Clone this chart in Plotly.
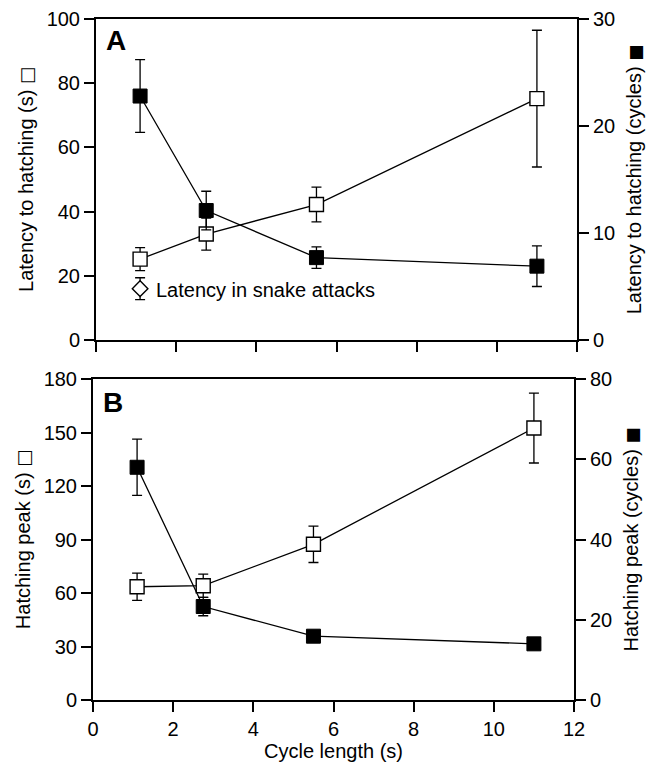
import plotly.graph_objects as go

# ---------------- data ----------------
cycle_length = [1.1, 2.75, 5.5, 11.0]

# Panel A
latency_s = [25.2, 33.0, 42.2, 75.2]
latency_s_err = [3.6, 5.0, 5.4, 21.3]
latency_cycles = [22.8, 12.1, 7.7, 6.9]
latency_cycles_err = [3.4, 1.8, 1.0, 1.9]
snake_x = [1.1]
snake_latency = [16.0]
snake_latency_err = [3.4]

# Panel B
peak_s = [63.5, 64.1, 87.3, 152.5]
peak_s_err = [7.6, 6.5, 10.2, 19.6]
peak_cycles = [58.0, 23.3, 15.9, 14.0]
peak_cycles_err = [7.0, 2.3, 1.0, 0.8]

x_ticks = [0, 2, 4, 6, 8, 10, 12]

FONT = "Liberation Sans, Arial, Helvetica, sans-serif"
PAGE_W, PAGE_H = 659, 767
OFF = 8  # default body margin of the html page
W, H = PAGE_W - OFF, PAGE_H - OFF

def px_x(p):
    return (p - OFF) / W

def px_y(p):
    return 1 - (p - OFF) / H

fig = go.Figure()

line_style = dict(color="black", width=1.3)
err_style = dict(type="data", visible=True, color="black", thickness=1.3, width=5)

# ---- Panel A ----
fig.add_trace(go.Scatter(
    x=cycle_length, y=latency_s, xaxis="x", yaxis="y",
    mode="lines+markers", line=line_style,
    marker=dict(symbol="square", size=14, color="white", line=dict(color="black", width=1.4)),
    error_y=dict(array=latency_s_err, **err_style), showlegend=False))
fig.add_trace(go.Scatter(
    x=snake_x, y=snake_latency, xaxis="x", yaxis="y",
    mode="markers",
    marker=dict(symbol="diamond", size=12, color="white", line=dict(color="black", width=1.4)),
    error_y=dict(array=snake_latency_err, **err_style), showlegend=False))
fig.add_trace(go.Scatter(
    x=cycle_length, y=latency_cycles, xaxis="x", yaxis="y2",
    mode="lines+markers", line=line_style,
    marker=dict(symbol="square", size=14, color="black", line=dict(color="black", width=1)),
    error_y=dict(array=latency_cycles_err, **err_style), showlegend=False))

# ---- Panel B ----
fig.add_trace(go.Scatter(
    x=cycle_length, y=peak_s, xaxis="x2", yaxis="y3",
    mode="lines+markers", line=line_style,
    marker=dict(symbol="square", size=14, color="white", line=dict(color="black", width=1.4)),
    error_y=dict(array=peak_s_err, **err_style), showlegend=False))
fig.add_trace(go.Scatter(
    x=cycle_length, y=peak_cycles, xaxis="x2", yaxis="y4",
    mode="lines+markers", line=line_style,
    marker=dict(symbol="square", size=14, color="black", line=dict(color="black", width=1)),
    error_y=dict(array=peak_cycles_err, **err_style), showlegend=False))

tickfont = dict(family=FONT, size=20, color="black")
titlefont = dict(family=FONT, size=20, color="black")

axis_common = dict(showline=True, linecolor="black", linewidth=2, ticks="outside",
                   ticklen=10, tickwidth=2, tickcolor="black", showgrid=False,
                   zeroline=False, tickfont=tickfont)

SQ_OPEN = '<span style="font-family:DejaVu Sans;font-size:18px;color:black">\u25A1</span>'
SQ_FILL = '<span style="font-family:DejaVu Sans;font-size:17px;color:black">\u25A0</span>'

dom_x_top = [px_x(96), px_x(577)]
dom_x_bot = [px_x(93), px_x(574)]
dom_y_top = [px_y(340), px_y(19)]
dom_y_bot = [px_y(700), px_y(379)]

fig.update_layout(
    width=W, height=H,
    margin=dict(l=0, r=0, t=0, b=0),
    paper_bgcolor="white", plot_bgcolor="white",
    font=dict(family=FONT, color="black"),
    xaxis=dict(domain=dom_x_top, range=[0, 12], tickvals=x_ticks, showticklabels=False,
               mirror=True, anchor="y", automargin=False, **axis_common),
    yaxis=dict(domain=dom_y_top, range=[0, 100], tickvals=[0, 20, 40, 60, 80, 100],
               anchor="x", automargin=False,
               title=dict(text="Latency to hatching (s) " + SQ_OPEN, font=titlefont, standoff=8),
               **axis_common),
    yaxis2=dict(range=[0, 30], tickvals=[0, 10, 20, 30], overlaying="y", side="right",
                anchor="x", automargin=False,
                title=dict(text="Latency to hatching (cycles) " + SQ_FILL, font=titlefont, standoff=13),
                **axis_common),
    xaxis2=dict(domain=dom_x_bot, range=[0, 12], tickvals=x_ticks, mirror=True,
                anchor="y3", automargin=False, ticklabelstandoff=0,
                title=dict(text="Cycle length (s)", font=titlefont, standoff=3),
                **axis_common),
    yaxis3=dict(domain=dom_y_bot, range=[0, 180], tickvals=[0, 30, 60, 90, 120, 150, 180],
                anchor="x2", automargin=False,
                title=dict(text="Hatching peak (s) " + SQ_OPEN, font=titlefont, standoff=8),
                **axis_common),
    yaxis4=dict(range=[0, 80], tickvals=[0, 20, 40, 60, 80], overlaying="y3", side="right",
                anchor="x2", automargin=False,
                title=dict(text="Hatching peak (cycles) " + SQ_FILL, font=titlefont, standoff=13),
                **axis_common),
    annotations=[
        dict(text="<b>A</b>", x=px_x(116), y=px_y(40), xref="paper", yref="paper",
             xanchor="center", yanchor="middle", showarrow=False,
             font=dict(family=FONT, size=28, color="black")),
        dict(text="<b>B</b>", x=px_x(113), y=px_y(402), xref="paper", yref="paper",
             xanchor="center", yanchor="middle", showarrow=False,
             font=dict(family=FONT, size=28, color="black")),
        dict(text="Latency in snake attacks", x=1.45, y=15.6, xref="x", yref="y",
             xanchor="left", yanchor="middle", showarrow=False,
             font=dict(family=FONT, size=20, color="black")),
    ],
)

fig.write_html("out.html")
